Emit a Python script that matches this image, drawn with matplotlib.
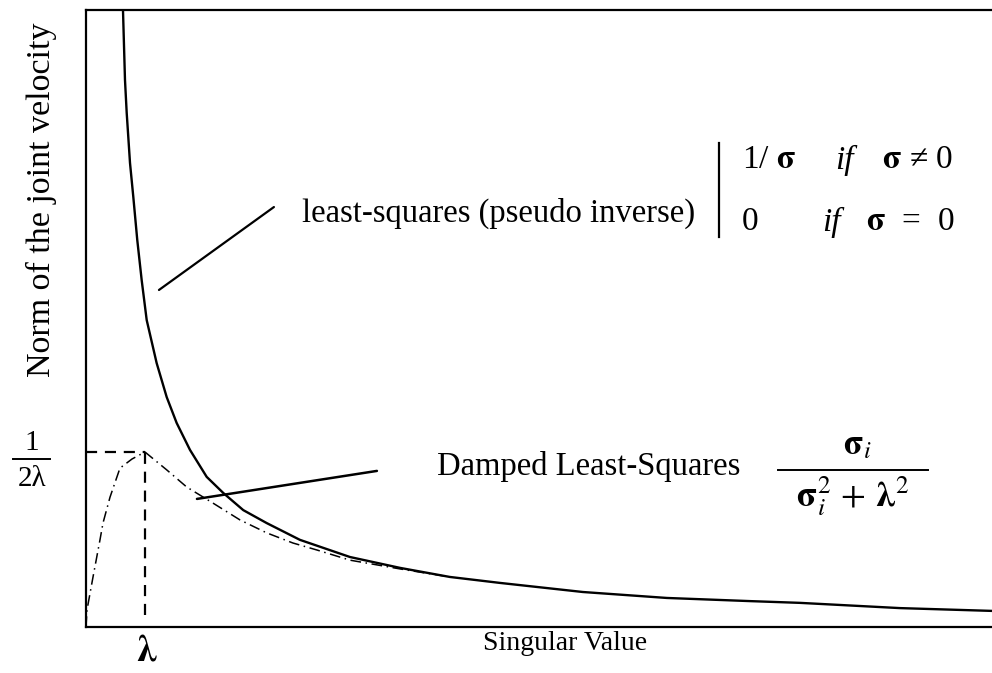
import matplotlib
matplotlib.use("Agg")
import matplotlib.pyplot as plt
from matplotlib.lines import Line2D

plt.rcParams['font.family'] = ['Liberation Serif', 'DejaVu Serif']
plt.rcParams['mathtext.fontset'] = 'stix'

# singular value axis is in units of the damping factor lambda
lam = 1.0
peak = 0.5  # 1/(2*lambda)

# least-squares (pseudo inverse) norm, 1/sigma
ls_sigma = [0.627, 0.644, 0.661, 0.690, 0.746, 0.802, 0.869, 0.944, 1.029, 1.198,
            1.368, 1.537, 1.763, 2.046, 2.327, 2.666, 3.063, 3.627, 4.475, 5.322,
            6.169, 7.017, 8.424, 9.847, 11.254, 12.10, 13.80, 15.36]
ls_norm = [1.763, 1.663, 1.563, 1.469, 1.326, 1.229, 1.106, 0.991, 0.877, 0.754,
           0.657, 0.583, 0.506, 0.429, 0.383, 0.334, 0.297, 0.249, 0.200, 0.169,
           0.143, 0.126, 0.100, 0.083, 0.074, 0.069, 0.054, 0.046]

# damped least-squares norm, sigma/(sigma^2 + lambda^2)
dls_sigma = [0.0, 0.017, 0.119, 0.237, 0.288, 0.407, 0.576, 0.780, 1.0, 1.368,
             1.707, 2.153, 2.610, 3.063, 3.508, 3.915, 4.475, 5.322, 6.169]
dls_norm = [0.0, 0.049, 0.143, 0.249, 0.297, 0.371, 0.454, 0.480, 0.5, 0.449,
            0.400, 0.354, 0.306, 0.269, 0.240, 0.220, 0.191, 0.166, 0.143]

W, H = 992, 673
fig = plt.figure(figsize=(W / 100, H / 100), dpi=100)
ax = fig.add_axes([86 / W, 1 - 627 / H, 1 - 86 / W, 617 / H])


def px(x, y):
    # pixel position -> figure fraction
    return x / W, 1 - y / H


ax.plot(ls_sigma, ls_norm, color='black', lw=1.7, solid_capstyle='butt')
ax.plot(dls_sigma, dls_norm, color='black', lw=1.1, linestyle=(0, (7, 3, 1, 3)))

# guides at the maximum of the damped curve
ax.plot([0, lam], [peak, peak], color='black', lw=1.6, linestyle=(0, (5, 3.5)))
ax.plot([lam, lam], [0.034, peak], color='black', lw=1.6, linestyle=(0, (5, 3.5)))

ax.set_xlim(0, 15.36)
ax.set_ylim(0, 1.763)
ax.set_xticks([])
ax.set_yticks([])
for side in ['left', 'bottom', 'top']:
    ax.spines[side].set_linewidth(1.6)
ax.spines['right'].set_visible(False)

# pointer lines to the labels
ax.annotate('', xy=(1.237, 0.963), xytext=(3.186, 1.200),
            arrowprops=dict(arrowstyle='-', lw=1.6, color='black',
                            shrinkA=0, shrinkB=0))
ax.annotate('', xy=(1.881, 0.366), xytext=(4.932, 0.446),
            arrowprops=dict(arrowstyle='-', lw=1.8, color='black',
                            shrinkA=0, shrinkB=0))

# axis titles
fig.text(*px(565, 644), 'Singular Value', fontsize=20, ha='center', va='center')
fig.text(*px(41, 200), 'Norm of the joint velocity', fontsize=24.5,
         rotation=90, ha='center', va='center')
fig.text(*px(147, 651), r'$\mathbf{\lambda}$', fontsize=27, ha='center', va='center')

# 1/(2 lambda) level
fig.text(*px(32, 443), '1', fontsize=21, ha='center', va='center')
fig.add_artist(Line2D([13 / W, 50 / W], [1 - 459 / H] * 2, color='black', lw=1.4))
fig.text(*px(32, 479), '2λ', fontsize=21, ha='center', va='center')

# least-squares label and its piecewise definition
fig.text(*px(302, 213), 'least-squares (pseudo inverse)', fontsize=23.5,
         ha='left', va='center')
fig.add_artist(Line2D([719 / W] * 2, [1 - 143 / H, 1 - 237 / H], color='black', lw=1.6))
fig.text(*px(742, 160), r'1/ $\mathbf{\sigma}$', fontsize=24, ha='left', va='center')
fig.text(*px(835, 160), 'if', fontsize=24, style='italic', ha='left', va='center')
fig.text(*px(882, 160), r'$\mathbf{\sigma}$ ≠ 0', fontsize=24, ha='left', va='center')
fig.text(*px(742, 222), '0', fontsize=24, ha='left', va='center')
fig.text(*px(822, 222), 'if', fontsize=24, style='italic', ha='left', va='center')
fig.text(*px(866, 222), r'$\mathbf{\sigma}$  =  0', fontsize=24, ha='left', va='center')

# damped least-squares label and its formula
fig.text(*px(437, 467), 'Damped Least-Squares', fontsize=23.5, ha='left', va='center')
fig.text(*px(857, 446), r'$\mathbf{\sigma}_i$', fontsize=25, ha='center', va='center')
fig.add_artist(Line2D([778 / W, 928 / W], [1 - 470 / H] * 2, color='black', lw=1.4))
fig.text(*px(853, 496), r'$\mathbf{\sigma}_i^2 \,+\, \mathbf{\lambda}^2$', fontsize=26,
         ha='center', va='center')

fig.savefig('out.png', dpi=100)
